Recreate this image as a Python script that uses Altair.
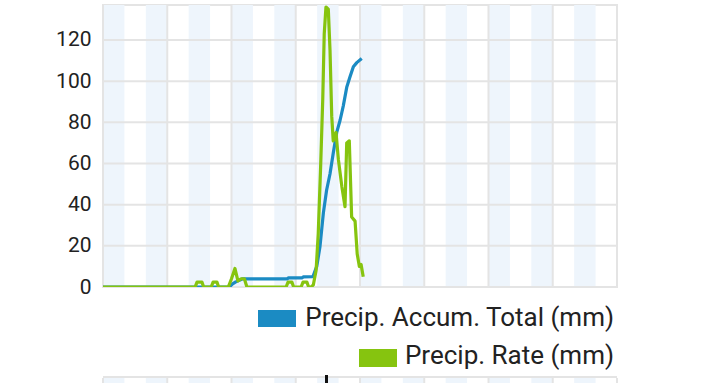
import altair as alt
import pandas as pd

# ---- data (hours since start of day, mm) ----
rate_h = [0, 4.3, 4.39, 4.62, 4.7, 5.05, 5.14, 5.32, 5.4, 5.85, 6.0, 6.16, 6.3, 6.45, 6.6, 6.72,
          8.55, 8.64, 8.82, 8.9, 9.25, 9.34, 9.52, 9.6, 9.72, 9.82, 9.95, 10.05, 10.16, 10.26,
          10.33, 10.41, 10.52, 10.6, 10.68, 10.75, 10.88, 10.99, 11.15, 11.3, 11.38, 11.5,
          11.61, 11.77, 11.87, 11.97, 12.05, 12.15]
rate_v = [0, 0, 2.4, 2.4, 0, 0, 2.4, 2.4, 0, 0, 4, 9, 3, 4, 4, 0,
          0, 2.4, 2.4, 0, 0, 2.4, 2.4, 0, 0, 1, 8, 26, 58, 91,
          123, 136, 135, 115, 83, 71, 75, 62, 49, 39, 70, 71,
          34, 32, 16, 10, 11, 5]

accum_h = [0, 5.9, 6.05, 6.2, 6.5, 8.6, 8.65, 9.3, 9.35, 9.8, 9.98, 10.13, 10.29, 10.44,
           10.6, 10.75, 10.91, 11.07, 11.22, 11.38, 11.53, 11.69, 11.85, 12.08]
accum_v = [0, 0, 1.5, 2.5, 3.9, 3.9, 4.4, 4.4, 4.9, 5, 10, 19.5, 36, 47,
           55, 65, 75, 81, 88, 97, 102, 107, 109, 111]

series_names = ["Precip. Accum. Total (mm)", "Precip. Rate (mm)"]
series_colors = ["#1b8bc3", "#86c40f"]

y_ticks = [0, 20, 40, 60, 80, 100, 120]
x_grid = [0, 3, 6, 9, 12, 15, 18, 21, 24]
band_start = [0, 2, 4, 6, 8, 10, 12, 14, 16, 18, 20, 22]

W, H = 514, 282
GRID = "#e4e4e4"
BAND = "#eef5fc"
TXT = "#222222"

lines = pd.concat([
    pd.DataFrame({"h": accum_h, "v": accum_v, "series": series_names[0], "o": 0}),
    pd.DataFrame({"h": rate_h, "v": rate_v, "series": series_names[1], "o": 1}),
])
bands = pd.DataFrame({"start": band_start, "end": [s + 1 for s in band_start]})
xg = pd.DataFrame({"x": x_grid})
yg = pd.DataFrame({"y": y_ticks})

xs = alt.Scale(domain=[0, 24], nice=False, zero=False)
ys = alt.Scale(domain=[0, 137], nice=False)

band_layer = alt.Chart(bands).mark_rect(color=BAND).encode(
    x=alt.X("start:Q", scale=xs, axis=None), x2="end:Q",
    y=alt.value(0), y2=alt.value(H))

vgrid = alt.Chart(xg).mark_rule(color=GRID, strokeWidth=2).encode(
    x=alt.X("x:Q", scale=xs, axis=None), y=alt.value(0), y2=alt.value(H))

hgrid = alt.Chart(yg).mark_rule(color=GRID, strokeWidth=2).encode(
    y=alt.Y("y:Q", scale=ys,
            axis=alt.Axis(values=y_ticks, labelFontSize=21, labelFont="Roboto",
                          labelColor=TXT, labelPadding=12, ticks=False, domain=False,
                          grid=False, title=None)),
    x=alt.value(0), x2=alt.value(W))

line_layer = alt.Chart(lines).mark_line(strokeWidth=3.2, strokeJoin="round", clip=True).encode(
    x=alt.X("h:Q", scale=xs, axis=None),
    y=alt.Y("v:Q", scale=ys),
    color=alt.Color("series:N", scale=alt.Scale(domain=series_names, range=series_colors),
                    legend=None),
    order="o:Q",
    detail="series:N")

# custom right-aligned legend
leg1 = pd.DataFrame({"label": [series_names[0]]})
leg2 = pd.DataFrame({"label": [series_names[1]]})
sw1 = alt.Chart(leg1).mark_rect(color=series_colors[0]).encode(
    x=alt.value(155), x2=alt.value(193), y=alt.value(305), y2=alt.value(322))
tx1 = alt.Chart(leg1).mark_text(align="right", baseline="alphabetic", fontSize=26,
                                font="Roboto", color=TXT).encode(
    x=alt.value(511), y=alt.value(321), text="label:N")
sw2 = alt.Chart(leg2).mark_rect(color=series_colors[1]).encode(
    x=alt.value(256), x2=alt.value(294), y=alt.value(344), y2=alt.value(362))
tx2 = alt.Chart(leg2).mark_text(align="right", baseline="alphabetic", fontSize=26,
                                font="Roboto", color=TXT).encode(
    x=alt.value(511), y=alt.value(359), text="label:N")

# top edge of the next chart below
nb_bands = alt.Chart(bands).mark_rect(color=BAND).encode(
    x=alt.X("start:Q", scale=xs, axis=None), x2="end:Q",
    y=alt.value(373), y2=alt.value(380))
nb_grid = alt.Chart(xg).mark_rule(color=GRID, strokeWidth=2).encode(
    x=alt.X("x:Q", scale=xs, axis=None), y=alt.value(373), y2=alt.value(380))
nb_top = alt.Chart(leg1).mark_rule(color=GRID, strokeWidth=2).encode(
    x=alt.value(0), x2=alt.value(W), y=alt.value(372))
nb_tick = alt.Chart(leg1).mark_rule(color="#111111", strokeWidth=3).encode(
    x=alt.value(223.5), y=alt.value(370), y2=alt.value(380))

chart = alt.layer(
    band_layer, vgrid, hgrid, line_layer, sw1, tx1, sw2, tx2,
    nb_bands, nb_grid, nb_top, nb_tick
).properties(
    width=W, height=H,
    autosize=alt.AutoSizeParams(type="none"),
    padding={"left": 103, "top": 5, "right": 103, "bottom": 96},
    background="white",
).configure_view(stroke=GRID, strokeWidth=2)

chart.save("out.html", embed_options={"renderer": "svg", "actions": False})
